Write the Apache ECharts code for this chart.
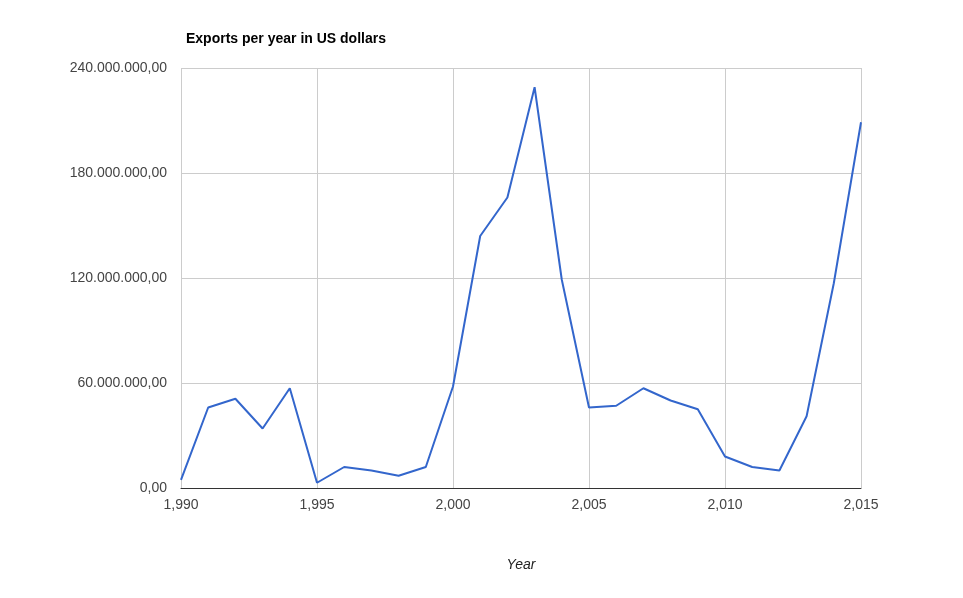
<!DOCTYPE html>
<html>
<head>
<meta charset="utf-8">
<script src="https://cdn.jsdelivr.net/npm/echarts@6/dist/echarts.min.js"></script>
<style>
  html, body { margin: 0; padding: 0; background: #fff; }
  #main { width: 963px; height: 598px; }
</style>
</head>
<body>
<div id="main"></div>
<script>
// Data
const years = [1990, 1991, 1992, 1993, 1994, 1995, 1996, 1997, 1998, 1999, 2000, 2001, 2002,
    2003, 2004, 2005, 2006, 2007, 2008, 2009, 2010, 2011, 2012, 2013, 2014, 2015];
const exportsUsd = [4.6, 46, 51, 34, 57, 3, 12, 10, 7, 12, 58, 144, 166,
    229, 119, 46, 47, 57, 50, 45, 18, 12, 10, 41, 117, 209].map(v => v * 1e6);

function formatMoney(v) {
    const s = Math.round(v).toString().replace(/\B(?=(\d{3})+(?!\d))/g, '.');
    return s + ',00';
}

const chart = echarts.init(document.getElementById('main'));
chart.setOption({
    animation: false,
    title: {
        text: 'Exports per year in US dollars',
        left: 181, top: 27,
        textStyle: { fontFamily: 'Arial, Liberation Sans', fontSize: 14, fontWeight: 'bold', color: '#000' }
    },
    grid: { left: 181, right: 102, top: 68, bottom: 110 },
    xAxis: {
        type: 'value', min: 1990, max: 2015, interval: 5,
        name: 'Year', nameLocation: 'middle', nameGap: 70,
        nameTextStyle: { fontFamily: 'Arial, Liberation Sans', fontSize: 14, fontStyle: 'italic', color: '#222' },
        axisLine: { lineStyle: { color: '#333' } },
        axisTick: { show: false },
        axisLabel: { color: '#444', fontSize: 14, fontFamily: 'Arial, Liberation Sans', margin: 10 },
        splitLine: { lineStyle: { color: '#ccc' } }
    },
    yAxis: {
        type: 'value', min: 0, max: 240e6, interval: 60e6,
        axisLine: { show: false },
        axisTick: { show: false },
        axisLabel: { color: '#444', fontSize: 14, fontFamily: 'Arial, Liberation Sans', formatter: formatMoney, margin: 14 },
        splitLine: { lineStyle: { color: '#ccc' } }
    },
    series: [{
        type: 'line',
        data: years.map((y, i) => [y, exportsUsd[i]]),
        showSymbol: false,
        lineStyle: { color: '#3366cc', width: 2 },
        itemStyle: { color: '#3366cc' }
    }]
});
</script>
</body>
</html>
